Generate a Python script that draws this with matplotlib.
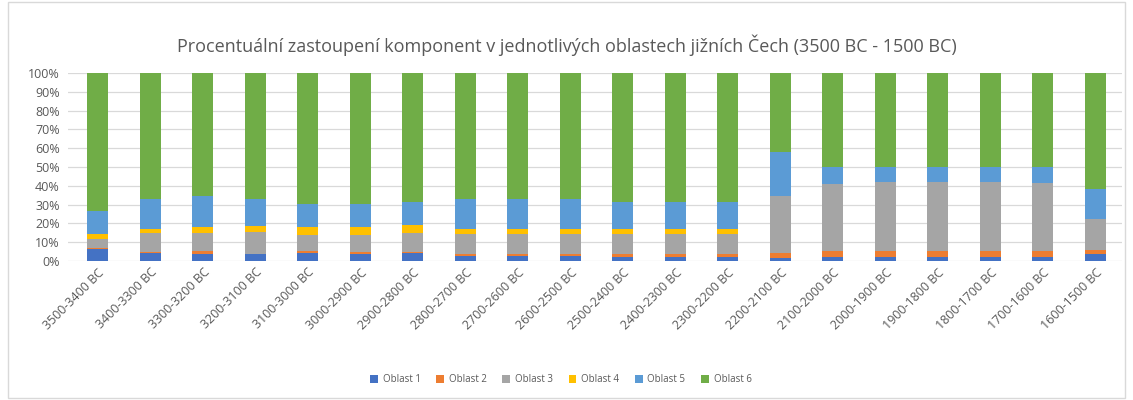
import matplotlib.pyplot as plt
from matplotlib.ticker import PercentFormatter, MultipleLocator
from matplotlib.patches import Rectangle
import numpy as np

periods = ['3500-3400 BC', '3400-3300 BC', '3300-3200 BC', '3200-3100 BC',
           '3100-3000 BC', '3000-2900 BC', '2900-2800 BC', '2800-2700 BC',
           '2700-2600 BC', '2600-2500 BC', '2500-2400 BC', '2400-2300 BC',
           '2300-2200 BC', '2200-2100 BC', '2100-2000 BC', '2000-1900 BC',
           '1900-1800 BC', '1800-1700 BC', '1700-1600 BC', '1600-1500 BC']

oblast1 = [6.2, 4.1, 3.7, 3.5, 4.1, 3.7, 4.3, 2.7, 2.7, 2.7,
           2.3, 2.3, 2.3, 1.8, 1.9, 2.0, 2.0, 2.0, 2.0, 3.7]
oblast2 = [0.5, 0.7, 1.8, 0.4, 1.1, 0.9, 0.5, 1.0, 1.0, 1.0,
           1.4, 1.4, 1.4, 2.3, 3.4, 3.5, 3.5, 3.5, 3.5, 2.2]
oblast3 = [5.0, 9.9, 9.2, 11.7, 8.6, 9.2, 10.3, 10.7, 10.7, 10.7,
           10.7, 10.7, 10.7, 30.6, 35.7, 36.3, 36.3, 36.3, 36.1, 16.4]
oblast4 = [2.5, 2.1, 3.6, 3.2, 4.3, 4.1, 4.0, 2.4, 2.4, 2.4,
           2.4, 2.4, 2.4, 0.1, 0.1, 0.1, 0.1, 0.1, 0.1, 0.3]
oblast5 = [12.6, 16.0, 16.5, 14.0, 12.2, 12.4, 12.1, 16.4, 16.4, 16.4,
           14.4, 14.4, 14.4, 23.1, 8.9, 8.1, 8.1, 8.1, 8.3, 15.8]
oblast6 = [73.2, 67.2, 65.2, 67.2, 69.7, 69.7, 68.8, 66.8, 66.8, 66.8,
           68.8, 68.8, 68.8, 42.1, 50.0, 50.0, 50.0, 50.0, 50.0, 61.6]

labels = ['Oblast 1', 'Oblast 2', 'Oblast 3', 'Oblast 4', 'Oblast 5', 'Oblast 6']
colors = ['#4472C4', '#ED7D31', '#A5A5A5', '#FFC000', '#5B9BD5', '#70AD47']

plt.rcParams['font.family'] = ['Open Sans', 'DejaVu Sans']

fig = plt.figure(figsize=(11.33, 4.0), dpi=100)
ax = fig.add_axes([0.060, 0.3475, 0.930, 0.47])

x = np.arange(len(periods))
series = [oblast1, oblast2, oblast3, oblast4, oblast5, oblast6]
bottom = np.zeros(len(periods))
for vals, lab, col in zip(series, labels, colors):
    vals = np.array(vals)
    ax.bar(x, vals, 0.4, bottom=bottom, color=col, label=lab, zorder=3)
    bottom += vals

ax.set_ylim(0, 100)
ax.set_xlim(-0.57, 19.5)
ax.yaxis.set_major_locator(MultipleLocator(10))
ax.yaxis.set_major_formatter(PercentFormatter(decimals=0))
ax.grid(axis='y', color='#d9d9d9', linewidth=0.9, zorder=0)
for s in ax.spines.values():
    s.set_visible(False)
ax.tick_params(length=0, colors='#595959', labelsize=9)
ax.tick_params(axis='y', pad=6)
ax.set_xticks(x)
ax.set_xticklabels(periods, rotation=45, ha='right', rotation_mode='anchor',
                   fontsize=9)

fig.suptitle('Procentuální zastoupení komponent v jednotlivých oblastech jižních Čech (3500 BC - 1500 BC)',
             x=0.50, y=0.915, fontsize=13, color='#595959')

fig.legend(loc='center', bbox_to_anchor=(0.495, 0.05), ncol=6, frameon=False,
           fontsize=7, handlelength=0.8, handleheight=0.8, columnspacing=1.6,
           handletextpad=0.5, labelcolor='#595959')

fig.patches.append(Rectangle((0.007, 0.005), 0.986, 0.99, transform=fig.transFigure,
                             fill=False, edgecolor='#d9d9d9', linewidth=1))

fig.savefig('out.png', dpi=100)
